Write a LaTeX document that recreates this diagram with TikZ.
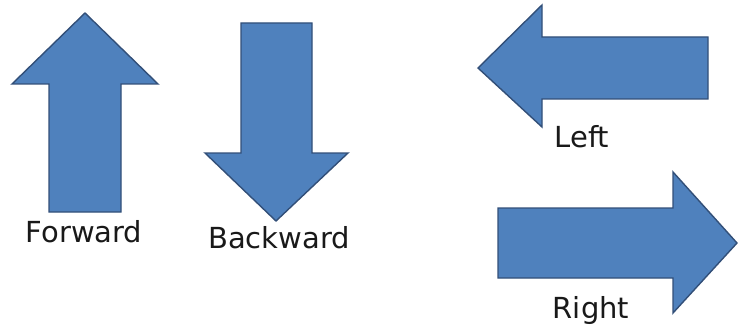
\documentclass[tikz,border=0pt]{standalone}
\usepackage{fontspec}
\setmainfont{DejaVu Sans}
\usepackage{tikz}
\definecolor{arrowfill}{HTML}{4F81BD}
\definecolor{arrowedge}{HTML}{324F78}

\begin{document}
\begin{tikzpicture}[x=1pt,y=-1pt,
    blockarrow/.style={fill=arrowfill, draw=arrowedge, line width=1.4pt, line join=miter},
    lbl/.style={anchor=base, inner sep=0pt, font=\fontsize{29}{32}\selectfont, text=black!90}]
  \useasboundingbox (0,0) rectangle (740,329);
  % up arrow
  \draw[blockarrow] (85,13) -- (158,84) -- (121,84) -- (121,212) -- (49,212) -- (49,84) -- (12,84) -- cycle;
  \node[lbl] (forward) at (84,242) {Forward};
  % down arrow
  \draw[blockarrow] (241,23) -- (312,23) -- (312,153) -- (348,153) -- (276,221) -- (205,153) -- (241,153) -- cycle;
  \node[lbl] (backward) at (279,248) {Backward};
  % left arrow
  \draw[blockarrow] (478,68) -- (542,5) -- (542,37) -- (708,37) -- (708,99) -- (542,99) -- (542,127) -- cycle;
  \node[lbl] (left) at (582,147) {Left};
  % right arrow
  \draw[blockarrow] (498,208) -- (673,208) -- (673,172) -- (737,243) -- (673,313) -- (673,278) -- (498,278) -- cycle;
  \node[lbl] (right) at (591,318) {Right};
\end{tikzpicture}
\end{document}
